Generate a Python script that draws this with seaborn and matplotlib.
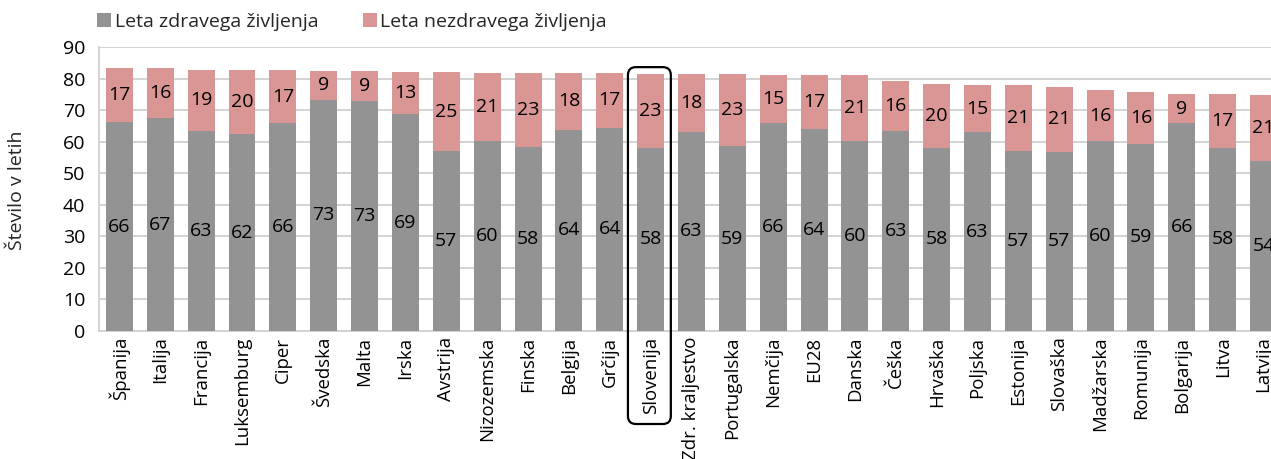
import numpy as np
import pandas as pd
import matplotlib
matplotlib.use("Agg")
import matplotlib.pyplot as plt
from matplotlib.patches import FancyBboxPatch, Patch
import seaborn as sns

countries = ["Španija", "Italija", "Francija", "Luksemburg", "Ciper", "Švedska", "Malta",
             "Irska", "Avstrija", "Nizozemska", "Finska", "Belgija", "Grčija", "Slovenija",
             "Zdr. kraljestvo", "Portugalska", "Nemčija", "EU28", "Danska", "Češka", "Hrvaška",
             "Poljska", "Estonija", "Slovaška", "Madžarska", "Romunija", "Bolgarija", "Litva",
             "Latvija"]
healthy = [66.2, 67.4, 63.4, 62.3, 65.9, 73.3, 73.0, 68.7, 57.1, 60.3, 58.3, 63.8, 64.4, 58.1,
           63.1, 58.6, 66.0, 64.0, 60.3, 63.4, 58.0, 63.0, 57.0, 56.8, 60.1, 59.3, 65.8, 58.0,
           53.8]
unhealthy = [17.3, 16.1, 19.3, 20.3, 16.8, 9.1, 9.3, 13.4, 24.9, 21.4, 23.4, 17.9, 17.3, 23.3,
             18.3, 22.7, 15.1, 17.0, 20.8, 15.8, 20.3, 14.9, 20.9, 20.6, 16.2, 16.4, 9.3, 17.1,
             21.0]
highlight = "Slovenija"
series_names = ["Leta zdravega življenja", "Leta nezdravega življenja"]
y_label = "Število v letih"
y_ticks = list(range(0, 91, 10))

GRAY = "#939393"
PINK = "#D99694"
FONT = ["Open Sans", "DejaVu Sans"]
FS = 14

sns.set_theme(style="white")
plt.rcParams["font.family"] = FONT
plt.rcParams["font.size"] = FS

df = pd.DataFrame({"country": countries, "healthy": healthy, "unhealthy": unhealthy})
df["total"] = df["healthy"] + df["unhealthy"]

W, H = 1271, 459
fig = plt.figure(figsize=(W / 100, H / 100), dpi=100)
n = len(countries)
step = 40.86
left, top, bottom = 99, 47, 331
right = left + n * step
ax = fig.add_axes([left / W, 1 - bottom / H, (right - left) / W, (bottom - top) / H])

sns.barplot(data=df, x="country", y="total", color=PINK, saturation=1, width=0.66, ax=ax,
            zorder=2, edgecolor="none")
sns.barplot(data=df, x="country", y="healthy", color=GRAY, saturation=1, width=0.66, ax=ax,
            zorder=3, edgecolor="none")

ax.set_ylim(0, 90)
ax.set_xlim(-0.5, n - 0.5)
ax.set_yticks(y_ticks)
ax.yaxis.grid(True, color="#d0d0d0", linewidth=1.3, zorder=0)
ax.set_axisbelow(True)
for s in ["top", "right"]:
    ax.spines[s].set_visible(False)
for s in ["left", "bottom"]:
    ax.spines[s].set_color("#d0d0d0")
    ax.spines[s].set_linewidth(1.3)
ax.set_xlabel("")
ax.set_ylabel("")
ax.tick_params(axis="x", length=0, pad=4, labelsize=13.4, rotation=90, colors="black")
ax.tick_params(axis="y", length=0, pad=10, labelsize=FS, colors="black")
for lab in ax.get_xticklabels():
    lab.set_verticalalignment("top")
    lab.set_horizontalalignment("center")

# data labels
for i, (h, u) in enumerate(zip(healthy, unhealthy)):
    ax.text(i, h / 2, f"{round(h)}", ha="center", va="center", fontsize=FS, color="black",
            zorder=5)
    ax.text(i, h + u / 2, f"{round(u)}", ha="center", va="center", fontsize=FS,
            color="black", zorder=5)

# highlight box
idx = countries.index(highlight)
px_per_y = (bottom - top) / 90.0
box_top = healthy[idx] + unhealthy[idx] + 7 / px_per_y
box_bot = -(424 - bottom) / px_per_y
hw = 0.525
rad_x = 8 / step
box = FancyBboxPatch((idx - 0.03 - hw, box_bot), 2 * hw, box_top - box_bot,
                     boxstyle=f"round,pad=0,rounding_size={rad_x}",
                     mutation_aspect=step / px_per_y,
                     fill=False, edgecolor="black", linewidth=1.6, clip_on=False, zorder=6)
ax.add_patch(box)

fig.text(17 / W, 1 - 190 / H, y_label, rotation=90, ha="center", va="center", fontsize=FS)

handles = [Patch(facecolor=GRAY, edgecolor="none"), Patch(facecolor=PINK, edgecolor="none")]
for hnd, name, x0 in zip(handles, series_names, [97, 363]):
    fig.legend([hnd], [name], loc="center left", bbox_to_anchor=(x0 / W, 1 - 22 / H),
               frameon=False, handlelength=0.7, handleheight=0.7, handletextpad=0.2,
               borderpad=0, borderaxespad=0, fontsize=FS)

fig.savefig("out.png", dpi=100)
